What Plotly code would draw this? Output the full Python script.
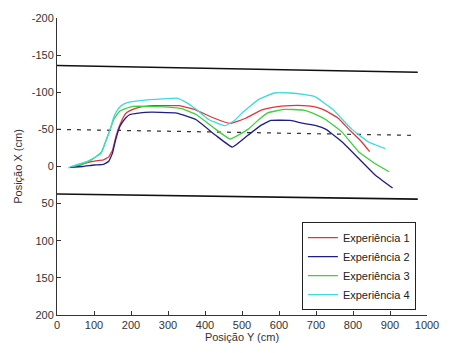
import plotly.graph_objects as go

# Experiment trajectories (Posição Y, Posição X) in cm
exp1_x = [50, 80, 110, 126, 140, 150, 160, 175, 187, 205, 224, 260, 300, 330, 376, 420, 468, 510, 552, 587, 630, 666, 700, 727, 760, 789, 820, 845]
exp1_y = [0, -5, -8, -9, -13, -22, -42, -62, -72, -77, -80, -82, -82, -82, -76, -66, -58, -65, -76, -80, -82, -82, -80, -75, -65, -50, -35, -20]

exp2_x = [35, 70, 100, 126, 140, 150, 158, 165, 171, 185, 197, 220, 239, 280, 324, 376, 429, 474, 516, 550, 578, 631, 666, 700, 727, 771, 815, 859, 907]
exp2_y = [1, 0, -2, -3, -7, -18, -35, -47, -55, -65, -70, -72, -73, -73, -72, -63, -42, -26, -42, -55, -62, -62, -58, -55, -50, -33, -11, 11, 29]

exp3_x = [40, 66, 90, 105, 121, 134, 145, 153, 162, 171, 185, 205, 250, 300, 337, 376, 429, 468, 516, 545, 568, 613, 666, 700, 727, 771, 815, 859, 897]
exp3_y = [0, -3, -8, -13, -20, -37, -52, -63, -70, -75, -78, -81, -81, -80, -78, -70, -50, -37, -50, -63, -72, -77, -76, -70, -63, -46, -20, -4, 7]

exp4_x = [30, 50, 82, 118, 134, 145, 153, 163, 174, 190, 213, 250, 284, 324, 350, 376, 411, 455, 480, 500, 544, 587, 630, 666, 697, 745, 797, 842, 887]
exp4_y = [2, -2, -7, -17, -37, -52, -66, -76, -82, -86, -88, -90, -91, -92, -86, -77, -63, -55, -62, -72, -90, -99, -99, -97, -94, -77, -50, -33, -24]

# Reference lines (corridor borders and centre line)
upper_x = [0, 975]
upper_y = [-136, -127]
center_x = [0, 960]
center_y = [-50, -42]
lower_x = [0, 975]
lower_y = [37, 44]

series_names = ["Experiência 1", "Experiência 2", "Experiência 3", "Experiência 4"]
series_colors = ["#e0353d", "#1e1e86", "#3ecf3e", "#3ddbdb"]

x_ticks = [0, 100, 200, 300, 400, 500, 600, 700, 800, 900, 1000]
y_ticks = [-200, -150, -100, -50, 0, 50, 100, 150, 200]
y_tick_labels = ["-200", "-150", "-100", "-50", "0", "50", "100", "150", "200"]

fig = go.Figure()

fig.add_trace(go.Scatter(x=upper_x, y=upper_y, mode="lines", line=dict(color="#111111", width=1.6), showlegend=False))
fig.add_trace(go.Scatter(x=center_x, y=center_y, mode="lines", line=dict(color="#333333", width=1.2, dash="4px,6px"), showlegend=False))
fig.add_trace(go.Scatter(x=lower_x, y=lower_y, mode="lines", line=dict(color="#111111", width=1.6), showlegend=False))

for xs, ys, name, col in zip([exp1_x, exp2_x, exp3_x, exp4_x], [exp1_y, exp2_y, exp3_y, exp4_y], series_names, series_colors):
    fig.add_trace(go.Scatter(x=xs, y=ys, mode="lines", name=name,
                             line=dict(color=col, width=1.3, shape="spline", smoothing=0.3)))

font_family = "Liberation Sans, Arial, sans-serif"

fig.update_layout(
    width=451, height=353,
    margin=dict(l=57, r=14, t=14, b=35),
    paper_bgcolor="white", plot_bgcolor="white",
    font=dict(family=font_family, size=11, color="#333333"),
    xaxis=dict(range=[0, 1000], tickvals=x_ticks, ticks="inside", ticklen=4, tickcolor="#333333",
               showline=True, linecolor="#333333", linewidth=1, showgrid=False, zeroline=False,
               title=dict(text="Posição Y (cm)", standoff=2, font=dict(size=11)),
               tickfont=dict(size=11)),
    yaxis=dict(range=[200, -200], tickvals=y_ticks, ticktext=y_tick_labels, ticks="inside", ticklen=4, tickcolor="#333333",
               showline=True, linecolor="#333333", linewidth=1, showgrid=False, zeroline=False,
               title=dict(text="Posição X (cm)", standoff=6, font=dict(size=11)),
               tickfont=dict(size=11)),
    legend=dict(x=0.97, xanchor="right", y=0.3125, yanchor="top",
                bgcolor="white", bordercolor="#222222", borderwidth=1,
                font=dict(size=11, color="#222222"), tracegroupgap=0),
)

fig.write_html("out.html")
